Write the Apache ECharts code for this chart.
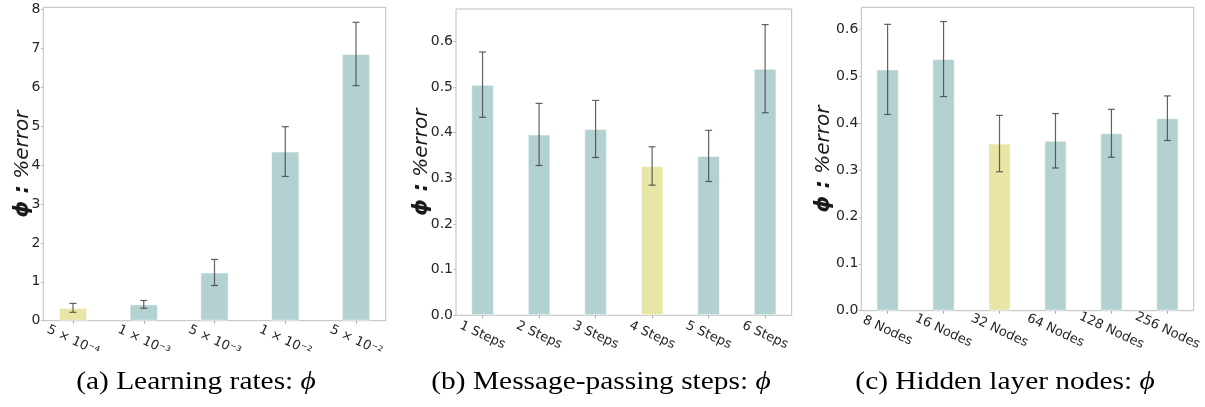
<!DOCTYPE html>
<html>
<head>
<meta charset="utf-8">
<script src="https://cdn.jsdelivr.net/npm/echarts@6/dist/echarts.min.js"></script>
<style>
  html, body { margin: 0; padding: 0; background: #ffffff; }
  #chart { width: 1205px; height: 407px; }
</style>
</head>
<body>
<div id="chart"></div>
<script>
// Learning rates
const lrCategories = ['5 × 10⁻⁴', '1 × 10⁻³', '5 × 10⁻³', '1 × 10⁻²', '5 × 10⁻²'];
const lrMeans = [0.33, 0.42, 1.24, 4.35, 6.86];
const lrErrors = [0.115, 0.10, 0.335, 0.64, 0.815];
const lrBest = 0;

// Message-passing steps
const stepCategories = ['1 Steps', '2 Steps', '3 Steps', '4 Steps', '5 Steps', '6 Steps'];
const stepMeans = [0.505, 0.396, 0.408, 0.327, 0.349, 0.540];
const stepErrors = [0.0715, 0.068, 0.0625, 0.042, 0.056, 0.0965];
const stepBest = 3;

// Hidden layer nodes
const nodeCategories = ['8 Nodes', '16 Nodes', '32 Nodes', '64 Nodes', '128 Nodes', '256 Nodes'];
const nodeMeans = [0.514, 0.536, 0.356, 0.362, 0.378, 0.410];
const nodeErrors = [0.096, 0.080, 0.060, 0.058, 0.051, 0.0475];
const nodeBest = 2;

const captions = ['(a) Learning rates: ', '(b) Message-passing steps: ', '(c) Hidden layer nodes: '];

const TEAL = '#b2d1d0';
const YELLOW = '#e9e5a6';
const SANS = 'DejaVu Sans';
const SERIF = 'Liberation Serif';

// frame: plot box in px; xPad: data margin (in category units) on each side of the bars
const panels = [
  { cats: lrCategories, means: lrMeans, errs: lrErrors, best: lrBest,
    frame: { left: 43.3, top: 7.3, width: 342.4, height: 313.4 }, xPad: 0.42,
    yMax: 8.06, yInterval: 1, digits: 0, nameGap: 10, captionX: 196 },
  { cats: stepCategories, means: stepMeans, errs: stepErrors, best: stepBest,
    frame: { left: 456, top: 9, width: 335.7, height: 306.3 }, xPad: 0.47,
    yMax: 0.6707, yInterval: 0.1, digits: 1, nameGap: 24, captionX: 601 },
  { cats: nodeCategories, means: nodeMeans, errs: nodeErrors, best: nodeBest,
    frame: { left: 861.3, top: 7.3, width: 332.4, height: 303.4 }, xPad: 0.47,
    yMax: 0.6463, yInterval: 0.1, digits: 1, nameGap: 27, captionX: 1005 }
];

const grid = [], xAxis = [], yAxis = [], series = [], graphic = [];

panels.forEach((p, i) => {
  const n = p.cats.length;
  const f = p.frame;
  // one category band in px
  const band = f.width / (n - 1 + 2 * p.xPad);
  const barLeft = f.left - (0.5 - p.xPad) * band;
  const fg = 2 * i, bg = 2 * i + 1;

  // outer frame with the value axis
  grid.push({ left: f.left, top: f.top, width: f.width, height: f.height,
    show: true, borderColor: '#bdbdbd', borderWidth: 1, backgroundColor: 'transparent' });
  // bar area, category bands sized to the data margins
  grid.push({ left: barLeft, top: f.top, width: band * n, height: f.height });

  xAxis.push({ gridIndex: fg, type: 'value', min: 0, max: 1, show: false });
  xAxis.push({ gridIndex: bg, type: 'category', data: p.cats,
    axisLine: { show: false },
    axisTick: { show: true, alignWithLabel: true, length: 3, lineStyle: { color: '#aaaaaa' } },
    axisLabel: { interval: 0, rotate: -25, align: 'center', verticalAlign: 'middle', margin: 20,
      fontFamily: SANS, fontSize: 13, color: '#262626' } });

  yAxis.push({ gridIndex: fg, type: 'value', min: 0, max: p.yMax, interval: p.yInterval,
    axisLine: { show: false }, splitLine: { show: false },
    axisTick: { show: true, length: 2.5, lineStyle: { color: '#bdbdbd' } },
    axisLabel: { fontFamily: SANS, fontSize: 14, color: '#262626', margin: 3, showMaxLabel: false,
      formatter: v => v.toFixed(p.digits) },
    name: '{p|ϕ :} {e|%error}', nameLocation: 'middle', nameRotate: 90, nameGap: p.nameGap,
    nameMoveOverlap: false,
    nameTextStyle: { fontFamily: SANS, fontSize: 20, color: '#1a1a1a',
      rich: { p: { fontFamily: SANS, fontSize: 21, fontStyle: 'italic', fontWeight: 'bold', color: '#1a1a1a' },
              e: { fontFamily: SANS, fontSize: 20, fontStyle: 'italic', color: '#1a1a1a' } } } });
  yAxis.push({ gridIndex: bg, type: 'value', min: 0, max: p.yMax, show: false });

  series.push({
    type: 'bar', xAxisIndex: bg, yAxisIndex: bg, barWidth: '40%',
    data: p.means.map((v, k) => ({ value: v, itemStyle: { color: k === p.best ? YELLOW : TEAL } })),
    itemStyle: { borderColor: 'rgba(255,255,255,0.55)', borderWidth: 1 },
    silent: true, animation: false
  });

  series.push({
    type: 'custom', xAxisIndex: bg, yAxisIndex: bg, z: 5, silent: true, animation: false,
    data: p.means.map((v, k) => [k, v - p.errs[k], v + p.errs[k]]),
    encode: { x: 0, y: [1, 2] },
    renderItem: (params, api) => {
      const x = api.value(0);
      const lo = api.coord([x, api.value(1)]);
      const hi = api.coord([x, api.value(2)]);
      const cap = 3.5;
      const st = { stroke: 'rgba(70,70,70,0.85)', lineWidth: 1.2 };
      return { type: 'group', children: [
        { type: 'line', shape: { x1: hi[0], y1: hi[1], x2: lo[0], y2: lo[1] }, style: st },
        { type: 'line', shape: { x1: hi[0] - cap, y1: hi[1], x2: hi[0] + cap, y2: hi[1] }, style: st },
        { type: 'line', shape: { x1: lo[0] - cap, y1: lo[1], x2: lo[0] + cap, y2: lo[1] }, style: st }
      ] };
    }
  });

  // sub-figure caption under each panel
  graphic.push({
    type: 'text', x: p.captionX, y: 383, scaleX: 1.2, silent: true,
    style: {
      text: captions[i] + '{p|ϕ}',
      fontFamily: SERIF, fontSize: 24.5, fill: '#000',
      align: 'center', verticalAlign: 'middle',
      rich: { p: { fontFamily: SERIF, fontSize: 24.5, fontStyle: 'italic', fill: '#000' } }
    }
  });
});

const chart = echarts.init(document.getElementById('chart'), null, { renderer: 'canvas' });
chart.setOption({ animation: false, backgroundColor: '#ffffff', grid, xAxis, yAxis, series, graphic });
</script>
</body>
</html>
